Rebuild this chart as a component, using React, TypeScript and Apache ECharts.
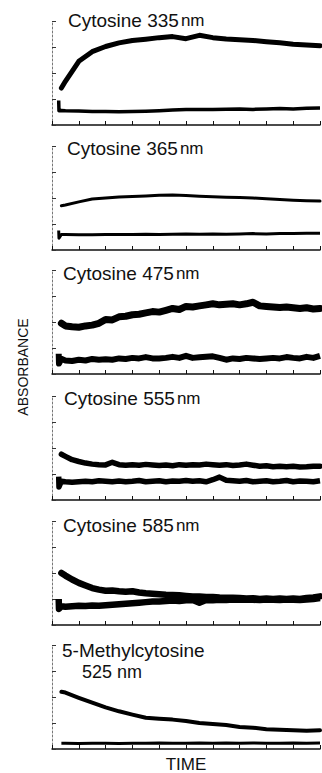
import React, { useEffect, useRef } from "react";
import * as echarts from "echarts";

// ---- data ----
const T_SMOOTH = [0.35, 0.5, 1, 1.5, 2, 2.5, 3, 3.5, 4, 4.5, 5, 5.5, 6, 6.5, 7, 7.5, 8, 8.5, 9, 9.5, 10];
const T_NOISY = [0.35, 0.5, 0.75, 1, 1.25, 1.5, 1.75, 2, 2.25, 2.5, 2.75, 3, 3.25, 3.5, 3.75, 4, 4.25, 4.5, 4.75, 5, 5.25, 5.5, 5.75, 6, 6.25, 6.5, 6.75, 7, 7.25, 7.5, 7.75, 8, 8.25, 8.5, 8.75, 9, 9.25, 9.5, 9.75, 10];
const BLIP_T = [0.25, 0.26];

const TITLES = ["Cytosine 335", "Cytosine 365", "Cytosine 475", "Cytosine 555", "Cytosine 585", "5-Methylcytosine"];
const UNIT = "nm";
const LAST_WAVELENGTH = "525";
const X_LABEL = "TIME";
const Y_LABEL = "ABSORBANCE";

const c335Sample = [1.42, 1.68, 2.45, 2.82, 3.02, 3.16, 3.25, 3.3, 3.36, 3.4, 3.32, 3.45, 3.36, 3.31, 3.28, 3.25, 3.2, 3.16, 3.11, 3.08, 3.05];
const c335Base = [0.56, 0.55, 0.54, 0.52, 0.52, 0.51, 0.52, 0.53, 0.55, 0.58, 0.6, 0.6, 0.6, 0.61, 0.62, 0.6, 0.62, 0.63, 0.62, 0.64, 0.65];
const c335Blip = [0.94, 0.55];

const c365Sample = [1.7, 1.73, 1.85, 1.96, 2.0, 2.04, 2.06, 2.08, 2.11, 2.12, 2.1, 2.07, 2.05, 2.03, 2.02, 2.0, 1.97, 1.94, 1.91, 1.89, 1.88];
const c365Base = [0.6, 0.6, 0.59, 0.59, 0.6, 0.6, 0.6, 0.61, 0.6, 0.61, 0.62, 0.61, 0.62, 0.61, 0.62, 0.63, 0.62, 0.63, 0.63, 0.64, 0.64];
const c365Blip = [0.75, 0.45];

const c475Sample = [1.95, 1.85, 1.82, 1.8, 1.85, 1.88, 1.95, 2.1, 2.08, 2.2, 2.22, 2.28, 2.3, 2.35, 2.4, 2.38, 2.45, 2.52, 2.48, 2.6, 2.58, 2.62, 2.66, 2.7, 2.66, 2.68, 2.7, 2.66, 2.7, 2.76, 2.62, 2.6, 2.58, 2.56, 2.58, 2.55, 2.52, 2.55, 2.5, 2.52];
const c475Base = [0.58, 0.52, 0.5, 0.55, 0.52, 0.58, 0.55, 0.57, 0.55, 0.6, 0.58, 0.62, 0.6, 0.65, 0.6, 0.6, 0.62, 0.66, 0.62, 0.7, 0.62, 0.64, 0.66, 0.68, 0.62, 0.55, 0.6, 0.58, 0.62, 0.6, 0.58, 0.6, 0.62, 0.6, 0.65, 0.62, 0.6, 0.66, 0.62, 0.7];
const c475Blip = [0.78, 0.4];

const c555Sample = [1.76, 1.68, 1.55, 1.48, 1.42, 1.38, 1.36, 1.35, 1.45, 1.36, 1.34, 1.36, 1.34, 1.37, 1.35, 1.33, 1.35, 1.32, 1.36, 1.34, 1.36, 1.35, 1.38, 1.36, 1.34, 1.36, 1.33, 1.35, 1.38, 1.34, 1.3, 1.32, 1.28, 1.3, 1.28, 1.3, 1.27, 1.28, 1.3, 1.3];
const c555Base = [0.72, 0.7, 0.68, 0.7, 0.72, 0.7, 0.74, 0.72, 0.7, 0.73, 0.7, 0.72, 0.75, 0.7, 0.72, 0.74, 0.7, 0.73, 0.72, 0.75, 0.72, 0.74, 0.7, 0.78, 0.88, 0.76, 0.74, 0.72, 0.75, 0.7, 0.72, 0.74, 0.7, 0.72, 0.75, 0.7, 0.73, 0.72, 0.7, 0.74];
const c555Blip = [0.9, 0.5];

const c585Sample = [2.0, 1.9, 1.75, 1.62, 1.52, 1.42, 1.36, 1.32, 1.33, 1.3, 1.28, 1.3, 1.25, 1.22, 1.2, 1.18, 1.16, 1.15, 1.14, 1.12, 1.1, 1.1, 1.08, 1.08, 1.06, 1.05, 1.05, 1.04, 1.02, 1.03, 1.0, 1.02, 1.0, 1.02, 1.0, 1.02, 1.0, 1.04, 1.06, 1.1];
const c585Base = [0.72, 0.7, 0.72, 0.74, 0.73, 0.75, 0.74, 0.76, 0.78, 0.8, 0.82, 0.84, 0.86, 0.88, 0.9, 0.9, 0.92, 0.94, 0.92, 0.95, 0.96, 0.86, 0.96, 0.95, 0.97, 0.96, 0.98, 0.97, 0.98, 0.97, 0.96, 0.98, 0.97, 0.96, 0.98, 0.97, 0.96, 0.98, 1.0, 1.04];
const c585Blip = [1.0, 0.62];

const m525Sample = [2.2, 2.17, 1.97, 1.78, 1.6, 1.45, 1.32, 1.2, 1.16, 1.13, 1.08, 1.0, 0.96, 0.92, 0.85, 0.82, 0.76, 0.74, 0.72, 0.7, 0.72];
const m525Base = [0.22, 0.22, 0.21, 0.22, 0.22, 0.21, 0.22, 0.22, 0.23, 0.22, 0.22, 0.23, 0.22, 0.23, 0.22, 0.23, 0.22, 0.22, 0.23, 0.22, 0.23];

// ---- layout ----
const GRID_TOPS = [21, 146, 270, 396, 521, 645];
const GRID_H = 104;
const GRID_LEFT = 52;
const GRID_W = 268;
const FONT = "'Liberation Sans', Arial, sans-serif";

const PANELS = [
  { sample: c335Sample, base: c335Base, blip: c335Blip, t: T_SMOOTH, wS: 5, wB: 3.5 },
  { sample: c365Sample, base: c365Base, blip: c365Blip, t: T_SMOOTH, wS: 3, wB: 3 },
  { sample: c475Sample, base: c475Base, blip: c475Blip, t: T_NOISY, wS: 7, wB: 6 },
  { sample: c555Sample, base: c555Base, blip: c555Blip, t: T_NOISY, wS: 5.5, wB: 5.5 },
  { sample: c585Sample, base: c585Base, blip: c585Blip, t: T_NOISY, wS: 6.5, wB: 6.5 },
  { sample: m525Sample, base: m525Base, blip: null as number[] | null, t: T_SMOOTH, wS: 4, wB: 3 },
];

const TITLE_POS = [
  { x: 68, y: 20 },
  { x: 67, y: 148 },
  { x: 63, y: 273 },
  { x: 64, y: 398 },
  { x: 63, y: 525 },
  { x: 62, y: 650 },
];

export default function App() {
  const ref = useRef<HTMLDivElement>(null);
  useEffect(() => {
    if (!ref.current) return;
    const chart = echarts.init(ref.current, null, { renderer: "svg" });

    const grid = GRID_TOPS.map((top) => ({ left: GRID_LEFT, width: GRID_W, top, height: GRID_H }));
    const xAxis = GRID_TOPS.map((_, i) => ({
      gridIndex: i,
      type: "value",
      min: 0,
      max: 10,
      interval: 1,
      axisLine: { show: true, lineStyle: { color: "#111", width: 1.5 } },
      axisTick: { show: true, inside: true, length: 4, lineStyle: { color: "#111", width: 1 } },
      axisLabel: { show: false },
      splitLine: { show: false },
    }));
    const yAxis = GRID_TOPS.map((_, i) => ({
      gridIndex: i,
      type: "value",
      min: 0,
      max: 4,
      interval: 1,
      axisLine: { show: true, lineStyle: { color: "#777", width: 1, type: [2, 2] } },
      axisTick: { show: true, inside: true, length: 4, lineStyle: { color: "#333", width: 1 } },
      axisLabel: { show: false },
      splitLine: { show: false },
    }));

    const series: any[] = [];
    PANELS.forEach((p, i) => {
      series.push({
        type: "line",
        xAxisIndex: i,
        yAxisIndex: i,
        symbol: "none",
        silent: true,
        lineStyle: { color: "#000", width: p.wS, join: "round", cap: "round" },
        data: p.t.map((t, j) => [t, p.sample[j]]),
      });
      const blipData = p.blip ? BLIP_T.map((t, j) => [t, p.blip![j]]) : [];
      series.push({
        type: "line",
        xAxisIndex: i,
        yAxisIndex: i,
        symbol: "none",
        silent: true,
        lineStyle: { color: "#000", width: p.wB, join: "round" },
        data: [...blipData, ...p.t.map((t, j) => [t, p.base[j]])],
      });
    });

    const rich = {
      a: { fontSize: 19, fontFamily: FONT, fill: "#111", color: "#111" },
      b: { fontSize: 17, fontFamily: FONT, fill: "#111", color: "#111", padding: [0, 0, 0, 2] },
    };

    const graphic: any[] = TITLES.slice(0, 5).map((t, i) => ({
      type: "text",
      x: TITLE_POS[i].x,
      y: TITLE_POS[i].y,
      style: {
        text: `{a|${t}}{b|${UNIT}}`,
        rich,
        textVerticalAlign: "middle",
        verticalAlign: "middle",
        fill: "#111",
      },
    }));
    graphic.push({
      type: "text",
      x: TITLE_POS[5].x,
      y: TITLE_POS[5].y,
      style: { text: TITLES[5], font: `19px ${FONT}`, fill: "#111", verticalAlign: "middle", textVerticalAlign: "middle" },
    });
    graphic.push({
      type: "text",
      x: 82,
      y: 672,
      style: { text: `${LAST_WAVELENGTH} ${UNIT}`, font: `18px ${FONT}`, fill: "#111", verticalAlign: "middle", textVerticalAlign: "middle" },
    });
    graphic.push({
      type: "text",
      x: 186,
      y: 764,
      style: { text: X_LABEL, font: `17px ${FONT}`, fill: "#111", align: "center", textAlign: "center", verticalAlign: "middle", textVerticalAlign: "middle" },
    });
    graphic.push({
      type: "text",
      x: 23,
      y: 367,
      rotation: Math.PI / 2,
      style: { text: Y_LABEL, font: `14px ${FONT}`, fill: "#111", align: "center", textAlign: "center", verticalAlign: "middle", textVerticalAlign: "middle" },
    });

    chart.setOption({
      animation: false,
      backgroundColor: "#fff",
      grid,
      xAxis,
      yAxis,
      series,
      graphic,
    });
    return () => chart.dispose();
  }, []);
  return <div ref={ref} style={{ position: "fixed", left: 0, top: 0, width: 322, height: 773 }} />;
}
